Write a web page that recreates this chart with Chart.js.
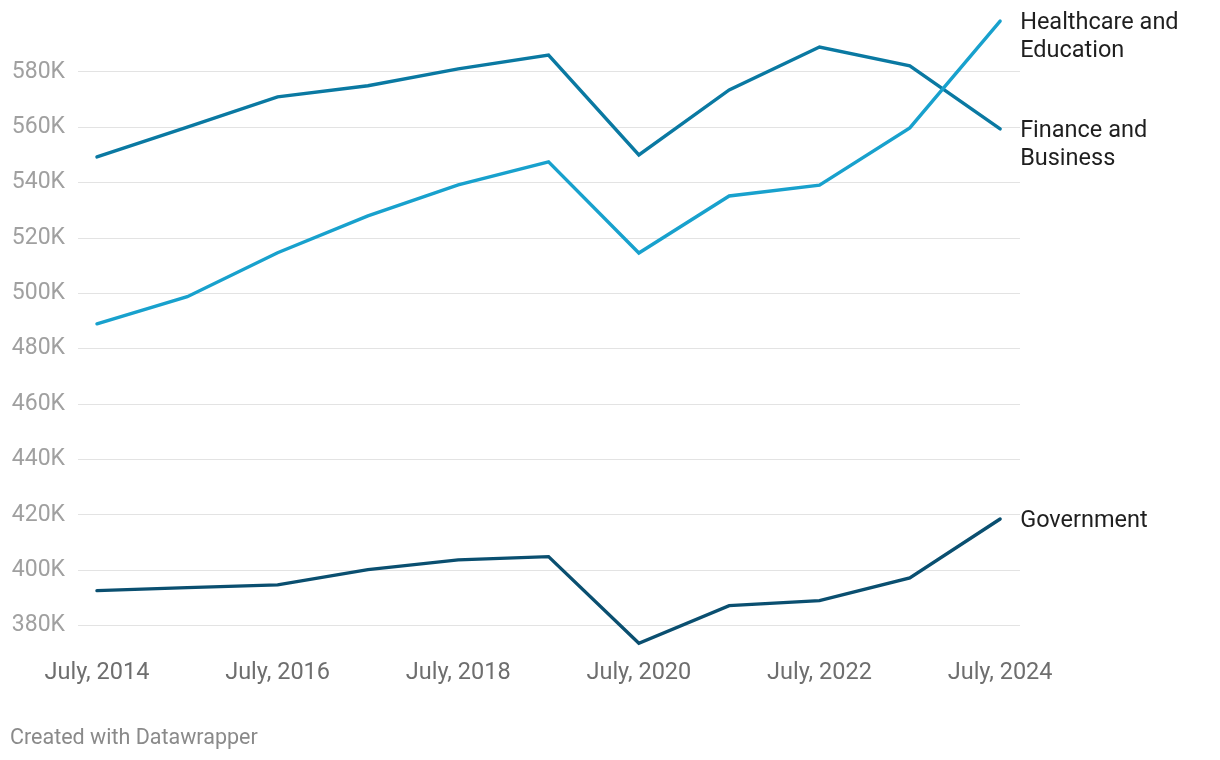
<!DOCTYPE html>
<html>
<head>
<meta charset="utf-8">
<script src="https://cdn.jsdelivr.net/npm/chart.js@4"></script>
<style>
  html, body { margin: 0; padding: 0; background: #ffffff; }
  #wrap { position: relative; width: 1220px; height: 760px; }
  #footer { position: absolute; left: 10px; top: 723px; font-family: Roboto, sans-serif; font-size: 21.5px; color: #8a8a8a; line-height: 28px; }
</style>
</head>
<body>
<div id="wrap">
  <canvas id="c" width="1220" height="760"></canvas>
  <div id="footer">Created with Datawrapper</div>
</div>
<script>
const years = [2014, 2015, 2016, 2017, 2018, 2019, 2020, 2021, 2022, 2023, 2024];
const healthcareEducation = [489000, 498800, 514700, 528000, 539200, 547500, 514600, 535200, 539100, 559800, 598400];
const financeBusiness = [549300, 560100, 571000, 575000, 581100, 586100, 550000, 573500, 589000, 582200, 559400];
const government = [392600, 393700, 394700, 400200, 403700, 404900, 373600, 387200, 389000, 397200, 418500];
const seriesNames = [['Healthcare and', 'Education'], ['Finance and', 'Business'], ['Government']];
const xTickYears = [2014, 2016, 2018, 2020, 2022, 2024];
const xTickLabels = ['July, 2014', 'July, 2016', 'July, 2018', 'July, 2020', 'July, 2022', 'July, 2024'];
const yTicks = [380000, 400000, 420000, 440000, 460000, 480000, 500000, 520000, 540000, 560000, 580000];

const toPts = arr => arr.map((v, i) => ({ x: years[i], y: v }));

const endLabels = {
  id: 'endLabels',
  afterDatasetsDraw(chart) {
    const ctx = chart.ctx;
    ctx.save();
    ctx.font = '23.5px Roboto, sans-serif';
    ctx.fillStyle = '#1f1f1f';
    ctx.textAlign = 'left';
    ctx.textBaseline = 'middle';
    chart.data.datasets.forEach((ds, di) => {
      const meta = chart.getDatasetMeta(di);
      const last = meta.data[meta.data.length - 1];
      const lines = seriesNames[di];
      lines.forEach((t, li) => {
        ctx.fillText(t, last.x + 20, last.y + 2.5 + li * 28);
      });
    });
    ctx.restore();
  }
};

const zeroPad = s => { s.paddingTop = 0; s.paddingBottom = 0; s.paddingLeft = 0; s.paddingRight = 0; };

new Chart(document.getElementById('c'), {
  type: 'line',
  data: {
    datasets: [
      { label: 'Healthcare and Education', data: toPts(healthcareEducation), borderColor: '#18a1cd' },
      { label: 'Finance and Business', data: toPts(financeBusiness), borderColor: '#0a79a2' },
      { label: 'Government', data: toPts(government), borderColor: '#0a4f70' }
    ]
  },
  options: {
    responsive: false,
    animation: false,
    devicePixelRatio: 1,
    layout: { padding: { top: 16.6, right: 200, bottom: 66.8, left: 0 } },
    elements: {
      line: { borderWidth: 3.4, tension: 0, borderJoinStyle: 'miter', borderCapStyle: 'round', fill: false },
      point: { radius: 0, hoverRadius: 0 }
    },
    datasets: { line: { clip: false } },
    plugins: { legend: { display: false }, tooltip: { enabled: false } },
    scales: {
      x: {
        type: 'linear',
        min: 2013.79,
        max: 2024.22,
        afterBuildTicks: s => { s.ticks = xTickYears.map(v => ({ value: v })); },
        afterFit: s => { s.height = 40; zeroPad(s); },
        grid: { display: false, drawTicks: false },
        border: { display: false },
        ticks: {
          autoSkip: false,
          maxRotation: 0,
          padding: 6,
          color: '#6e6e6e',
          font: { family: 'Roboto', size: 23.5 },
          callback: (v) => xTickLabels[xTickYears.indexOf(v)]
        }
      },
      y: {
        type: 'linear',
        min: 370000,
        max: 600000,
        afterBuildTicks: s => { s.ticks = yTicks.map(v => ({ value: v })); },
        afterFit: s => { s.width = 78; zeroPad(s); },
        grid: { color: '#e3e3e3', lineWidth: 1, drawTicks: false },
        border: { display: false },
        ticks: {
          padding: 13,
          color: '#a0a0a0',
          font: { family: 'Roboto', size: 23 },
          callback: v => (v / 1000) + 'K'
        }
      }
    }
  },
  plugins: [endLabels]
});
</script>
</body>
</html>
